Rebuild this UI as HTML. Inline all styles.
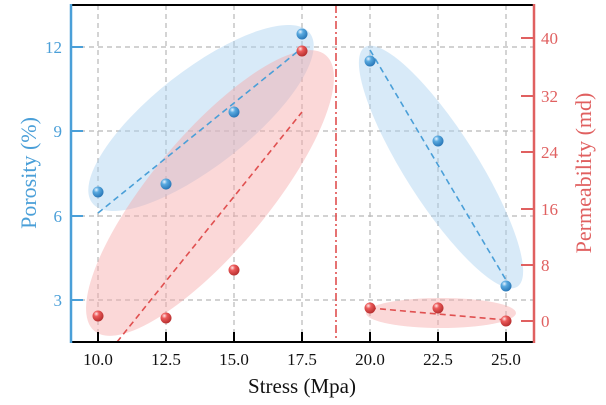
<!DOCTYPE html>
<html><head><style>body{margin:0;background:#fff}svg{display:block}</style></head><body>
<svg width="606" height="405" xmlns="http://www.w3.org/2000/svg" font-family="Liberation Serif, serif">
<defs>
<radialGradient id="gb" cx="0.35" cy="0.3" r="0.7"><stop offset="0" stop-color="#e8f4ff"/><stop offset="0.35" stop-color="#5aaae0"/><stop offset="1" stop-color="#2a78b8"/></radialGradient>
<radialGradient id="gr" cx="0.35" cy="0.3" r="0.7"><stop offset="0" stop-color="#ffe8e8"/><stop offset="0.35" stop-color="#ec5a5a"/><stop offset="1" stop-color="#b83030"/></radialGradient>
<clipPath id="c"><rect x="71" y="5" width="463" height="337"/></clipPath>
</defs>
<g stroke="#b8b8b8" stroke-width="1.2" stroke-dasharray="5,4">
<line x1="71" y1="47" x2="534" y2="47"/><line x1="71" y1="131" x2="534" y2="131"/><line x1="71" y1="216" x2="534" y2="216"/><line x1="71" y1="300" x2="534" y2="300"/>
<line x1="98" y1="5" x2="98" y2="342"/><line x1="166" y1="5" x2="166" y2="342"/><line x1="234" y1="5" x2="234" y2="342"/><line x1="302" y1="5" x2="302" y2="342"/><line x1="370" y1="5" x2="370" y2="342"/><line x1="438" y1="5" x2="438" y2="342"/><line x1="506" y1="5" x2="506" y2="342"/>
</g>
<g clip-path="url(#c)">
<ellipse cx="201" cy="118" rx="138" ry="48" transform="rotate(-38 201 118)" fill="#a8d0f0" fill-opacity="0.45"/>
<ellipse cx="210" cy="193" rx="180" ry="58" transform="rotate(-50 210 193)" fill="#f7a8a8" fill-opacity="0.45"/>
<ellipse cx="441" cy="167" rx="142" ry="36" transform="rotate(57.5 441 167)" fill="#a8d0f0" fill-opacity="0.45"/>
<ellipse cx="441" cy="313" rx="75" ry="15" fill="#f7a8a8" fill-opacity="0.45"/>
<g stroke-width="1.6" stroke-dasharray="6,4" fill="none">
<line x1="98" y1="213" x2="302" y2="48" stroke="#4a9fd8"/>
<line x1="370" y1="50" x2="506" y2="280" stroke="#4a9fd8"/>
<line x1="117" y1="342" x2="302" y2="112" stroke="#e05050"/>
<line x1="370" y1="308" x2="506" y2="320" stroke="#e05050"/>
</g>
<line x1="336" y1="5" x2="336" y2="342" stroke="#e05050" stroke-width="1.6" stroke-dasharray="8,3,2,3"/>
</g>
<g fill="url(#gb)">
<circle cx="98" cy="192" r="5.5"/><circle cx="166" cy="184" r="5.5"/><circle cx="234" cy="112" r="5.5"/><circle cx="302" cy="34" r="5.5"/><circle cx="370" cy="61" r="5.5"/><circle cx="438" cy="141" r="5.5"/><circle cx="506" cy="286" r="5.5"/>
</g>
<g fill="url(#gr)">
<circle cx="98" cy="316" r="5.5"/><circle cx="166" cy="318" r="5.5"/><circle cx="234" cy="270" r="5.5"/><circle cx="302" cy="51" r="5.5"/><circle cx="370" cy="308" r="5.5"/><circle cx="438" cy="308" r="5.5"/><circle cx="506" cy="321" r="5.5"/>
</g>
<line x1="71" y1="5" x2="534" y2="5" stroke="#000" stroke-width="2"/>
<line x1="71" y1="342" x2="534" y2="342" stroke="#000" stroke-width="2"/>
<line x1="71" y1="4" x2="71" y2="343" stroke="#4a9fd8" stroke-width="2.5"/>
<line x1="534" y1="4" x2="534" y2="343" stroke="#e06060" stroke-width="2.5"/>
<g stroke="#000" stroke-width="2"><line x1="98" y1="332" x2="98" y2="342"/><line x1="166" y1="332" x2="166" y2="342"/><line x1="234" y1="332" x2="234" y2="342"/><line x1="302" y1="332" x2="302" y2="342"/><line x1="370" y1="332" x2="370" y2="342"/><line x1="438" y1="332" x2="438" y2="342"/><line x1="506" y1="332" x2="506" y2="342"/></g>
<g stroke="#4a9fd8" stroke-width="2"><line x1="71" y1="47" x2="83" y2="47"/><line x1="71" y1="131" x2="83" y2="131"/><line x1="71" y1="216" x2="83" y2="216"/><line x1="71" y1="300" x2="83" y2="300"/></g>
<g stroke="#e06060" stroke-width="2"><line x1="521" y1="38" x2="534" y2="38"/><line x1="521" y1="96" x2="534" y2="96"/><line x1="521" y1="152" x2="534" y2="152"/><line x1="521" y1="209" x2="534" y2="209"/><line x1="521" y1="265" x2="534" y2="265"/><line x1="521" y1="321" x2="534" y2="321"/></g>
<g font-size="17" fill="#111" text-anchor="middle">
<text x="98" y="365">10.0</text><text x="166" y="365">12.5</text><text x="234" y="365">15.0</text><text x="302" y="365">17.5</text><text x="370" y="365">20.0</text><text x="438" y="365">22.5</text><text x="506" y="365">25.0</text>
</g>
<g font-size="17" fill="#4a9fd8" text-anchor="end">
<text x="62" y="53">12</text><text x="62" y="137">9</text><text x="62" y="222">6</text><text x="62" y="306">3</text>
</g>
<g font-size="17" fill="#e06060">
<text x="541" y="44">40</text><text x="541" y="102">32</text><text x="541" y="158">24</text><text x="541" y="215">16</text><text x="541" y="271">8</text><text x="541" y="327">0</text>
</g>
<text x="302" y="393" font-size="21" fill="#111" text-anchor="middle">Stress (Mpa)</text>
<text transform="translate(36 173) rotate(-90)" font-size="22" fill="#4a9fd8" text-anchor="middle">Porosity (%)</text>
<text transform="translate(591 173) rotate(-90)" font-size="22" fill="#e06060" text-anchor="middle">Permeability (md)</text>
</svg>
</body></html>
